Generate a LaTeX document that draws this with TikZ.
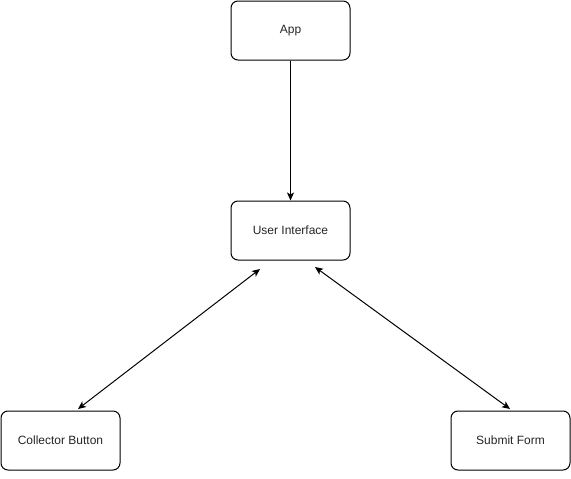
\documentclass[tikz,border=0pt]{standalone}
\usepackage{fontspec}
\setmainfont{Liberation Sans}
\usetikzlibrary{arrows.meta}
\begin{document}
\begin{tikzpicture}[x=1pt,y=-1pt,
  box/.style={draw=black,line width=1pt,rounded corners=7pt,minimum width=119pt,minimum height=59pt,font=\fontsize{12}{14}\selectfont,text=black!85,inner sep=0pt,fill=white},
  conn/.style={line width=1pt,-{Stealth[length=8pt,width=7pt,inset=2pt]}},
  dconn/.style={line width=1pt,{Stealth[length=8pt,width=7pt,inset=2pt]}-{Stealth[length=8pt,width=7pt,inset=2pt]}}]
\useasboundingbox (0,0) rectangle (571,479);
\node[box] (app) at (290.5,30.5) {App};
\node[box] (ui) at (290.5,230.5) {User Interface};
\node[box] (cb) at (60.5,440.5) {Collector Button};
\node[box] (sf) at (510.5,440.5) {Submit Form};
\coordinate (uil) at (260,269);
\coordinate (uir) at (315,267);
\coordinate (cbt) at (78,409);
\coordinate (sft) at (510,409);
\draw[conn] (app.south) -- (ui.north);
\draw[dconn] (uil) -- (cbt);
\draw[dconn] (uir) -- (sft);
\end{tikzpicture}
\end{document}
